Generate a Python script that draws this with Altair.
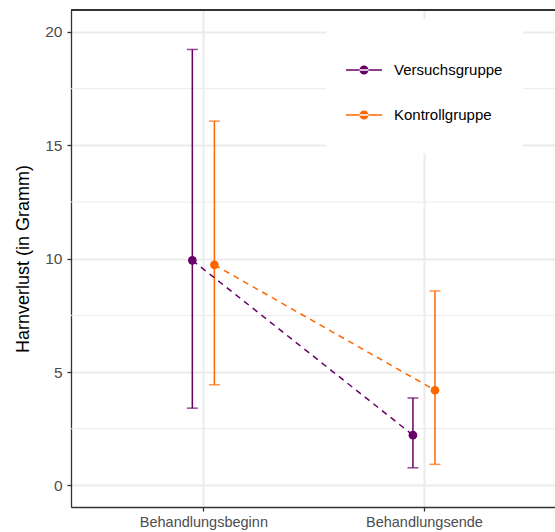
import altair as alt
import pandas as pd

# ---- data ----
zeitpunkte = ["Behandlungsbeginn", "Behandlungsende"]
gruppen = ["Versuchsgruppe", "Kontrollgruppe"]
farben = ["#660066", "#FF6600"]

vers_mean = [9.93, 2.22]
vers_lo = [3.41, 0.78]
vers_hi = [19.23, 3.86]

kontr_mean = [9.73, 4.20]
kontr_lo = [4.44, 0.93]
kontr_hi = [16.07, 8.58]

y_major = [0, 5, 10, 15, 20]
y_minor = [2.5, 7.5, 12.5, 17.5]

# ---- layout constants ----
W, H = 484, 497
dodge = 0.05  # half of dodge width in category units

rows = []
for gi, (g, m, lo, hi) in enumerate(zip(gruppen, [vers_mean, kontr_mean], [vers_lo, kontr_lo], [vers_hi, kontr_hi])):
    off = -dodge if gi == 0 else dodge
    for ti, t in enumerate(zeitpunkte):
        rows.append({"Zeit": t, "Gruppe": g, "pos": ti + 1 + off,
                     "mean": m[ti], "lo": lo[ti], "hi": hi[ti]})
df = pd.DataFrame(rows)
minor_df = pd.DataFrame({"v": y_minor})

FONT = "Liberation Sans"
GRID = "#EBEBEB"
DARK = "#333333"

label_expr = "[" + ",".join("'" + z + "'" for z in zeitpunkte) + "][datum.value - 1]"

x_scale = alt.Scale(domain=[0.4, 2.594], nice=False, zero=False)
x_axis = alt.Axis(values=[1, 2], labelExpr=label_expr, grid=True, gridColor=GRID, gridWidth=2,
                  domainColor=DARK, domainWidth=1.3, tickColor=DARK, tickSize=4, tickWidth=1.3,
                  labelColor="#4D4D4D", labelFontSize=14.5, labelFont=FONT, labelPadding=4, title=None)
y_scale = alt.Scale(domain=[-0.95, 20.97], nice=False, zero=False)
y_axis = alt.Axis(values=y_major, grid=True, gridColor=GRID, gridWidth=2,
                  domainColor=DARK, domainWidth=1.3, tickColor=DARK, tickSize=4, tickWidth=1.3,
                  labelColor="#4D4D4D", labelFontSize=15.5, labelFont=FONT, labelPadding=5,
                  title="Harnverlust (in Gramm)", titleFont=FONT, titleFontSize=18,
                  titleFontWeight="normal", titleColor="black", titlePadding=12)

color_scale = alt.Scale(domain=gruppen, range=farben)

# legend key: thin filled bar + filled circle (unit coordinates, scaled by sqrt(size)/2);
# the two bare moveTo points make the key box a full square
sym_path = ("M0,-1M0,1"
            "M-1,-0.042L1,-0.042L1,0.042L-1,0.042Z"
            "M-0.25,0A0.25,0.25,0,1,0,0.25,0A0.25,0.25,0,1,0,-0.25,0Z")
legend = alt.Legend(orient="none", legendX=255, legendY=9, title=" ", titleFontSize=4, titlePadding=9,
                    fillColor="white", padding=20, symbolType=sym_path, symbolSize=1296,
                    symbolStrokeWidth=0, symbolOpacity=1, labelFont=FONT, labelFontSize=15,
                    labelColor="black", labelOffset=12, rowPadding=9)

color_enc = alt.Color("Gruppe:N", scale=color_scale, legend=legend)

minor = alt.Chart(minor_df).mark_rule(color=GRID, strokeWidth=1).encode(
    y=alt.Y("v:Q", scale=y_scale, axis=y_axis)
)

top_border = alt.Chart(minor_df).mark_rule(color=DARK, strokeWidth=1.3).encode(
    x=alt.value(0), x2=alt.value(W), y=alt.value(0)
)

base = alt.Chart(df)

err = base.mark_rule(strokeWidth=1.5).encode(
    x=alt.X("pos:Q", scale=x_scale, axis=x_axis),
    y=alt.Y("lo:Q", scale=y_scale, axis=y_axis),
    y2="hi:Q",
    color=color_enc,
)

tick_lo = base.mark_tick(orient="horizontal", size=11, thickness=1.5).encode(
    x=alt.X("pos:Q", scale=x_scale, axis=x_axis),
    y=alt.Y("lo:Q", scale=y_scale, axis=y_axis),
    color=color_enc,
)
tick_hi = base.mark_tick(orient="horizontal", size=11, thickness=1.5).encode(
    x=alt.X("pos:Q", scale=x_scale, axis=x_axis),
    y=alt.Y("hi:Q", scale=y_scale, axis=y_axis),
    color=color_enc,
)

lines = base.mark_line(strokeDash=[6, 5], strokeWidth=1.5).encode(
    x=alt.X("pos:Q", scale=x_scale, axis=x_axis),
    y=alt.Y("mean:Q", scale=y_scale, axis=y_axis),
    color=color_enc,
    detail="Gruppe:N",
    order="pos:Q",
)

points = base.mark_point(filled=True, size=75, opacity=1).encode(
    x=alt.X("pos:Q", scale=x_scale, axis=x_axis),
    y=alt.Y("mean:Q", scale=y_scale, axis=y_axis),
    color=color_enc,
)

chart = alt.layer(minor, top_border, err, tick_lo, tick_hi, lines, points).properties(
    width=W, height=H,
    autosize=alt.AutoSizeParams(type="none"),
    padding={"left": 71, "top": 10, "right": 0, "bottom": 25},
).configure_view(stroke=None).configure(font=FONT, background="white")

chart.save("out.html", embed_options={"renderer": "svg", "actions": False})
